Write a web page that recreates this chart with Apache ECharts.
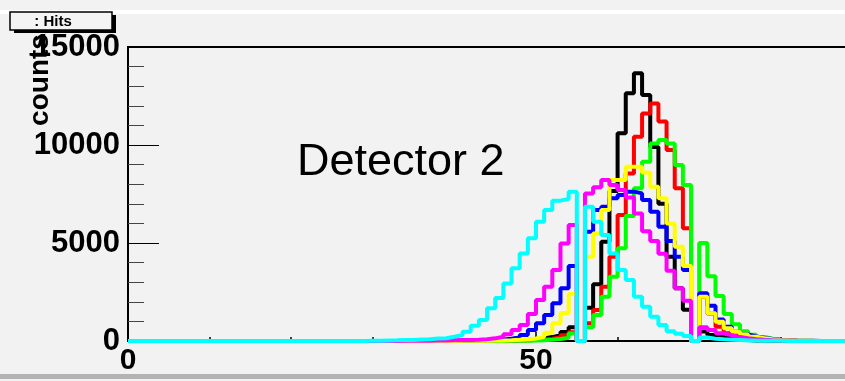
<!DOCTYPE html>
<html>
<head>
<meta charset="utf-8">
<script src="https://cdn.jsdelivr.net/npm/echarts@6/dist/echarts.min.js"></script>
<style>
html, body { margin: 0; padding: 0; background: #f2f2f2; }
#chart { width: 845px; height: 381px; }
</style>
</head>
<body>
<div id="chart"></div>
<script>
// Hit counts per bin (bin width 1, bins 0..99), one histogram per run
const hitsBlack = [
  0,0,0,0,0,0,0,0,0,0,
  0,0,0,0,0,0,0,0,0,0,
  0,0,0,0,0,0,0,0,0,0,
  0,0,0,0,0,0,0,0,0,0,
  3,5,7,10,15,20,30,45,60,90,
  130,200,290,460,700,0,1700,2900,5070,7650,
  10600,12640,13660,12550,9900,7000,4300,2690,1600,0,
  480,300,200,130,80,50,30,20,12,8,
  5,3,2,0,0,0,0,0,0,0,
  0,0,0,0,0,0,0,0,0,0
];
const hitsRed = [
  0,0,0,0,0,0,0,0,0,0,
  0,0,0,0,0,0,0,0,0,0,
  0,0,0,0,0,0,0,0,0,0,
  0,0,0,0,0,0,0,0,0,0,
  0,0,3,5,8,12,18,25,35,50,
  80,120,180,290,450,0,900,1580,2770,4300,
  6430,8550,10420,11610,12120,11200,9740,7790,5750,0,
  2250,1400,730,390,250,150,100,60,40,25,
  15,10,6,3,2,0,0,0,0,0,
  0,0,0,0,0,0,0,0,0,0
];
const hitsGreen = [
  0,0,0,0,0,0,0,0,0,0,
  0,0,0,0,0,0,0,0,0,0,
  0,0,0,0,0,0,0,0,0,0,
  0,0,0,0,0,0,0,0,0,0,
  0,0,0,0,3,5,8,12,18,25,
  40,60,100,170,380,0,700,1330,2260,3280,
  4730,6380,7790,9150,10080,10250,10080,8980,7960,0,
  5000,3300,2300,1380,850,500,320,200,120,70,
  40,25,15,10,6,3,2,0,0,0,
  0,0,0,0,0,0,0,0,0,0
];
const hitsBlue = [
  0,0,0,0,0,0,0,0,0,0,
  0,0,0,0,0,0,0,0,0,0,
  0,0,0,0,0,0,0,0,0,0,
  0,0,0,0,0,3,4,6,8,10,
  14,18,25,35,50,80,120,190,305,560,
  900,1330,1920,2690,3830,0,5580,6680,6850,7280,
  7450,7620,7530,7200,6600,5830,5100,4300,3620,0,
  2430,1800,1100,730,475,330,230,150,100,60,
  40,25,15,10,5,3,2,0,0,0,
  0,0,0,0,0,0,0,0,0,0
];
const hitsYellow = [
  0,0,0,0,0,0,0,0,0,0,
  0,0,0,0,0,0,0,0,0,0,
  0,0,0,0,0,0,0,0,0,0,
  0,0,0,0,0,0,0,0,3,5,
  7,10,13,17,22,30,40,60,85,130,
  220,420,900,1430,2400,0,4300,5490,6680,8210,
  8210,8890,8890,8600,7870,7280,6000,4810,3830,0,
  2260,1420,985,650,475,330,220,140,90,55,
  35,20,12,7,4,2,0,0,0,0,
  0,0,0,0,0,0,0,0,0,0
];
const hitsMagenta = [
  0,0,0,0,0,0,0,0,0,0,
  0,0,0,0,0,0,0,0,0,0,
  0,0,0,0,0,0,0,0,0,0,
  3,5,6,8,10,12,15,20,25,35,
  45,55,70,90,135,220,340,560,820,1380,
  2090,2770,3620,4980,5920,0,7530,7850,8210,7960,
  7700,7320,6500,5600,5100,4450,3580,2690,2050,0,
  700,560,390,290,200,140,90,60,40,25,
  15,10,6,4,2,1,0,0,0,0,
  0,0,0,0,0,0,0,0,0,0
];
const hitsCyan = [
  0,0,0,0,0,0,0,0,0,0,
  0,0,0,0,0,0,0,0,0,0,
  0,0,0,0,0,0,0,0,5,10,
  15,25,35,50,55,80,90,130,140,220,
  305,475,780,1070,1670,2190,2940,3710,4470,5240,
  6090,6680,7160,7250,7620,0,6850,6090,5410,4470,
  3620,3110,2260,1750,1240,820,500,370,260,0,
  180,120,85,60,45,30,20,15,10,8,
  5,4,3,2,1,0,0,0,0,0,
  0,0,0,0,0,0,0,0,0,0
];

// Axis ranges and tick spacing
const X_MIN = 0, X_MAX = 100, BIN_WIDTH = 1;
const Y_MIN = 0, Y_MAX = 15000;
const xTickStep = 50;
const yTickStep = 5000;

const histograms = [
  { name: 'black',   color: '#000000', values: hitsBlack },
  { name: 'red',     color: '#ff0000', values: hitsRed },
  { name: 'green',   color: '#00ff00', values: hitsGreen },
  { name: 'blue',    color: '#0000ff', values: hitsBlue },
  { name: 'yellow',  color: '#ffff00', values: hitsYellow },
  { name: 'magenta', color: '#ff00ff', values: hitsMagenta },
  { name: 'cyan',    color: '#00ffff', values: hitsCyan }
];

// Each bin starts at its lower edge; the last point closes the final bin
function stepPoints(values) {
  const pts = values.map((v, i) => [X_MIN + i * BIN_WIDTH, v]);
  pts.push([X_MIN + values.length * BIN_WIDTH, values[values.length - 1]]);
  return pts;
}

const FONT = '"Liberation Sans", Arial, Helvetica, sans-serif';
const plainNumber = v => String(v);

const chart = echarts.init(document.getElementById('chart'), null, { renderer: 'canvas' });

chart.setOption({
  animation: false,
  backgroundColor: '#f2f2f2',
  grid: {
    left: 128, top: 47, width: 816, height: 294,
    outerBoundsMode: 'none',
    containLabel: false,
    show: true, borderColor: '#000', borderWidth: 2, backgroundColor: 'transparent'
  },
  xAxis: {
    type: 'value', min: X_MIN, max: X_MAX, interval: xTickStep,
    axisLine: { show: true, lineStyle: { color: '#000', width: 1.5 } },
    axisTick: { show: true, inside: true, length: 9, lineStyle: { color: '#000', width: 1.5 } },
    minorTick: { show: true, splitNumber: 5, length: 4, lineStyle: { color: '#000', width: 1.5 } },
    splitLine: { show: false },
    axisLabel: { color: '#000', fontSize: 30, fontWeight: 'bold', fontFamily: FONT, margin: 5, formatter: plainNumber }
  },
  yAxis: {
    type: 'value', min: Y_MIN, max: Y_MAX, interval: yTickStep,
    axisLine: { show: true, lineStyle: { color: '#000', width: 2 } },
    axisTick: { show: true, inside: true, length: 31, lineStyle: { color: '#000', width: 1 } },
    minorTick: { show: true, splitNumber: 5, length: 16, lineStyle: { color: '#444', width: 1 } },
    splitLine: { show: false },
    axisLabel: { color: '#000', fontSize: 31, fontWeight: 'bold', fontFamily: FONT, margin: 8, formatter: plainNumber }
  },
  series: histograms.map(h => ({
    name: h.name,
    type: 'line',
    step: 'end',
    showSymbol: false,
    symbol: 'none',
    data: stepPoints(h.values),
    lineStyle: { color: h.color, width: 4 },
    itemStyle: { color: h.color }
  })),
  graphic: [
    { type: 'rect', shape: { x: 0, y: 10, width: 845, height: 4 }, style: { fill: '#ffffff' }, silent: true },
    { type: 'rect', shape: { x: 0, y: 374, width: 845, height: 5 }, style: { fill: '#b3b3b3' }, silent: true },
    // title box with drop shadow
    { type: 'rect', shape: { x: 14, y: 15, width: 102, height: 18 }, style: { fill: '#000' }, silent: true },
    { type: 'rect', shape: { x: 10, y: 12, width: 102, height: 18 }, style: { fill: '#f4f4f4', stroke: '#000', lineWidth: 1.5 }, silent: true },
    { type: 'text', x: 53, y: 22, style: { text: ': Hits', fill: '#000', font: 'bold 15px ' + FONT, textAlign: 'center', textVerticalAlign: 'middle' }, silent: true },
    // y axis title
    { type: 'text', x: 40, y: 80, rotation: Math.PI / 2, style: { text: 'counts', fill: '#000', font: 'bold 28px ' + FONT, textAlign: 'center', textVerticalAlign: 'middle' }, silent: true },
    // pad label
    { type: 'text', x: 297, y: 163, style: { text: 'Detector 2', fill: '#000', font: '45px ' + FONT, textAlign: 'left', textVerticalAlign: 'middle' }, silent: true }
  ]
});
</script>
</body>
</html>
